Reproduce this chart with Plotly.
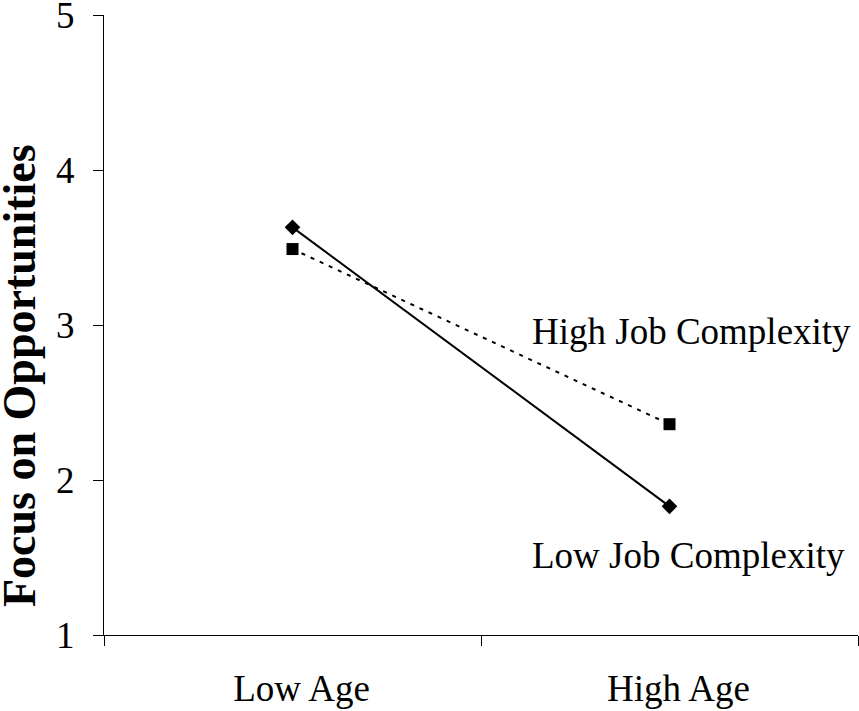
import plotly.graph_objects as go

categories = ["Low Age", "High Age"]
low_complexity = [3.63, 1.83]
high_complexity = [3.49, 2.36]
y_ticks = [1, 2, 3, 4, 5]
label_high = "High Job Complexity"
label_low = "Low Job Complexity"
y_title = "Focus on Opportunities"

FONT = "Liberation Serif, Times New Roman, serif"

fig = go.Figure()
fig.add_trace(go.Scatter(
    x=categories, y=high_complexity, mode="lines+markers",
    line=dict(color="black", width=2, dash="4px,6px"),
    marker=dict(symbol="square", size=12, color="black"),
    showlegend=False, hoverinfo="skip"))
fig.add_trace(go.Scatter(
    x=categories, y=low_complexity, mode="lines+markers",
    line=dict(color="black", width=2),
    marker=dict(symbol="diamond", size=12, color="black"),
    showlegend=False, hoverinfo="skip"))

fig.add_annotation(text=label_high, xref="paper", yref="y", x=0.5650, y=2.96,
                   xanchor="left", yanchor="middle", showarrow=False,
                   font=dict(family=FONT, size=37, color="black"))
fig.add_annotation(text=label_low, xref="paper", yref="y", x=0.5650, y=1.51,
                   xanchor="left", yanchor="middle", showarrow=False,
                   font=dict(family=FONT, size=37, color="black"))
fig.add_annotation(text="<b>" + y_title + "</b>", xref="paper", yref="paper",
                   x=(19 - 104) / 754, y=(635 - 376) / 620, xanchor="center", yanchor="middle",
                   textangle=-90, showarrow=False,
                   font=dict(family=FONT, size=46, color="black"))

fig.update_layout(
    width=859, height=711,
    margin=dict(l=104, r=1, t=15, b=76),
    paper_bgcolor="white", plot_bgcolor="white",
    font=dict(family=FONT, color="black"),
)
fig.update_xaxes(
    type="category", range=[-0.5, 1.5], tickson="boundaries",
    ticks="outside", ticklen=10, tickcolor="black", tickwidth=1,
    showline=True, linecolor="black", linewidth=1, showgrid=False, zeroline=False,
    tickfont=dict(family=FONT, size=37, color="black"),
    automargin=False, ticklabelstandoff=21, ticklabelshift=9, ticklabeloverflow="allow",
)
fig.update_yaxes(
    range=[1, 5], tickvals=y_ticks, ticks="outside", ticklen=10,
    tickcolor="black", tickwidth=1,
    showline=True, linecolor="black", linewidth=1, showgrid=False, zeroline=False,
    tickfont=dict(family=FONT, size=37, color="black"),
    automargin=False, ticklabelstandoff=11, ticklabeloverflow="allow",
)

fig.write_html(
    "out.html",
    config={"displayModeBar": False},
    post_script="document.body.style.margin='0';document.body.style.padding='0';document.body.style.overflow='hidden';",
)
